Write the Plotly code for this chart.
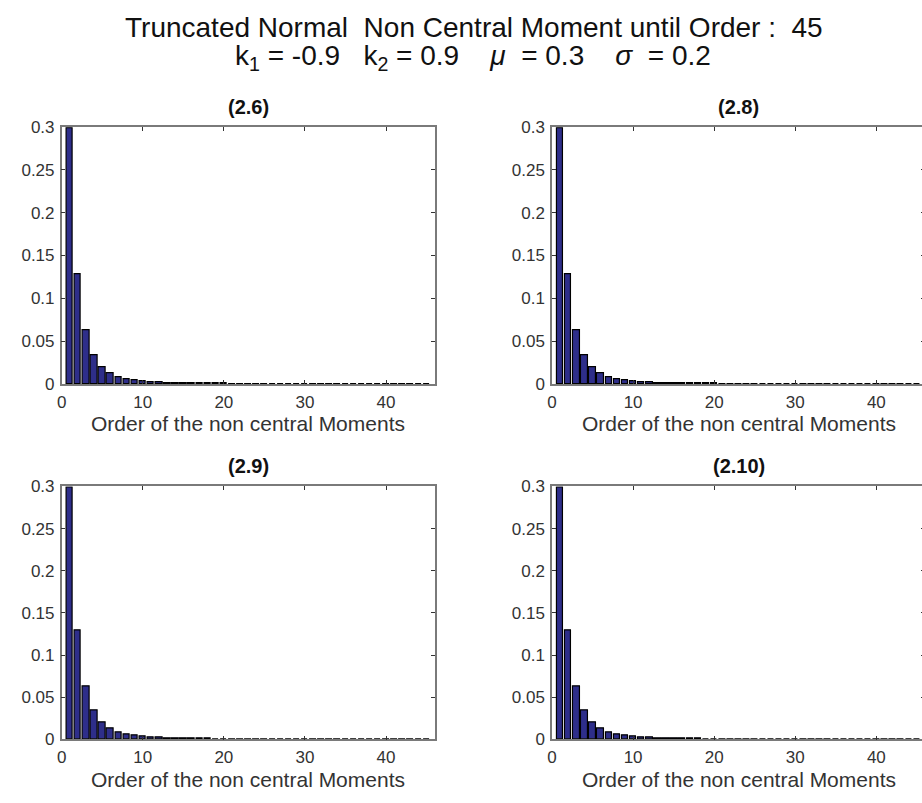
import plotly.graph_objects as go

# ---------------- data ----------------
orders = list(range(1, 46))
moments = [0.299, 0.1287, 0.0624, 0.0340, 0.0200, 0.0126, 0.0084, 0.0058, 0.0042, 0.0031,
           0.0023, 0.0018, 0.0014, 0.0011, 0.0009, 0.0007, 0.0006, 0.0005, 0.0004, 0.00035,
           0.0003, 0.00026, 0.00023, 0.0002, 0.00018, 0.00016, 0.00014, 0.00012, 0.00011, 0.0001,
           0.00009, 0.00008, 0.00007, 0.00006, 0.00005, 0.00005, 0.00004, 0.00004, 0.00003, 0.00003,
           0.00003, 0.00002, 0.00002, 0.00002, 0.00002]
panel_titles = ["(2.6)", "(2.8)", "(2.9)", "(2.10)"]
x_ticks = [0, 10, 20, 30, 40]
y_ticks = [0, 0.05, 0.1, 0.15, 0.2, 0.25, 0.3]
y_tick_labels = ["0", "0.05", "0.1", "0.15", "0.2", "0.25", "0.3"]
x_title = "Order of the non central Moments"
title_line1 = "Truncated Normal\u00a0 Non Central Moment until Order :\u00a0 45"
title_line2 = ("k<sub>1</sub> = -0.9\u00a0\u00a0 k<sub>2</sub> = 0.9\u00a0\u00a0\u00a0 "
               "<i>\u03bc</i>\u00a0 = 0.3\u00a0\u00a0\u00a0 <i>\u03c3</i>\u00a0 = 0.2")

# ---------------- layout helpers ----------------
W, H = 930, 803
FONT = "Liberation Sans, Arial, Helvetica, sans-serif"


def fx(p):
    return p / W


def fy(p):
    return 1 - p / H


# (left, right, top, bottom) in pixels
panels = [(57, 432, 121, 384), (550, 925, 121, 384),
          (57, 432, 489, 748), (550, 925, 489, 748)]
title_gaps = [27, 27, 27, 27]

fig = go.Figure()
annotations = []
layout_axes = {}

for i, (l, r, t, b) in enumerate(panels):
    n = i + 1
    xa = "x" if n == 1 else f"x{n}"
    ya = "y" if n == 1 else f"y{n}"
    fig.add_trace(go.Bar(
        x=orders, y=moments, xaxis=xa, yaxis=ya, width=0.8,
        marker=dict(color="#2e2e8a", line=dict(color="#000000", width=1.2)),
        showlegend=False, hoverinfo="skip"))
    common = dict(showline=True, linecolor="#7a7a7a", linewidth=1.5, mirror="ticks",
                  ticks="inside", ticklen=4, tickcolor="#333333", showgrid=False,
                  zeroline=False, tickfont=dict(family=FONT, size=17, color="#333333"))
    layout_axes["xaxis" if n == 1 else f"xaxis{n}"] = dict(
        domain=[fx(l), fx(r)], range=[0, 46], tickvals=x_ticks,
        ticktext=[str(v) for v in x_ticks], anchor=ya, ticklabelstandoff=2, **common)
    layout_axes["yaxis" if n == 1 else f"yaxis{n}"] = dict(
        domain=[fy(b), fy(t)], range=[0, 0.3], tickvals=y_ticks,
        ticktext=y_tick_labels, anchor=xa, ticklabelstandoff=2, **common)
    cx = (l + r) / 2
    annotations.append(dict(text=f"<b>{panel_titles[i]}</b>", x=fx(cx), y=fy(t - 21),
                            xref="paper", yref="paper", showarrow=False,
                            xanchor="center", yanchor="middle",
                            font=dict(family=FONT, size=20, color="#111111")))
    annotations.append(dict(text=x_title, x=fx(cx), y=fy(b + title_gaps[i]),
                            xref="paper", yref="paper", showarrow=False,
                            xanchor="center", yanchor="top",
                            font=dict(family=FONT, size=21, color="#333333")))

annotations.append(dict(text=title_line1, x=fx(472), y=fy(19), xref="paper", yref="paper",
                        showarrow=False, xanchor="center", yanchor="middle",
                        font=dict(family=FONT, size=28, color="#111111")))
annotations.append(dict(text=title_line2, x=fx(471), y=fy(50), xref="paper", yref="paper",
                        showarrow=False, xanchor="center", yanchor="middle",
                        font=dict(family=FONT, size=28, color="#111111")))

fig.update_layout(
    width=W, height=H, margin=dict(l=0, r=0, t=0, b=0, pad=0),
    paper_bgcolor="white", plot_bgcolor="white", bargap=0,
    annotations=annotations, **layout_axes)

fig.write_html("out.html", config={"displayModeBar": False},
               post_script="document.documentElement.style.overflow='hidden';"
                           "document.body.style.overflow='hidden';"
                           "document.body.style.margin='0';"
                           "var gd=document.getElementsByClassName('plotly-graph-div')[0];"
                           "gd.style.position='fixed';gd.style.left='0px';gd.style.top='0px';")
